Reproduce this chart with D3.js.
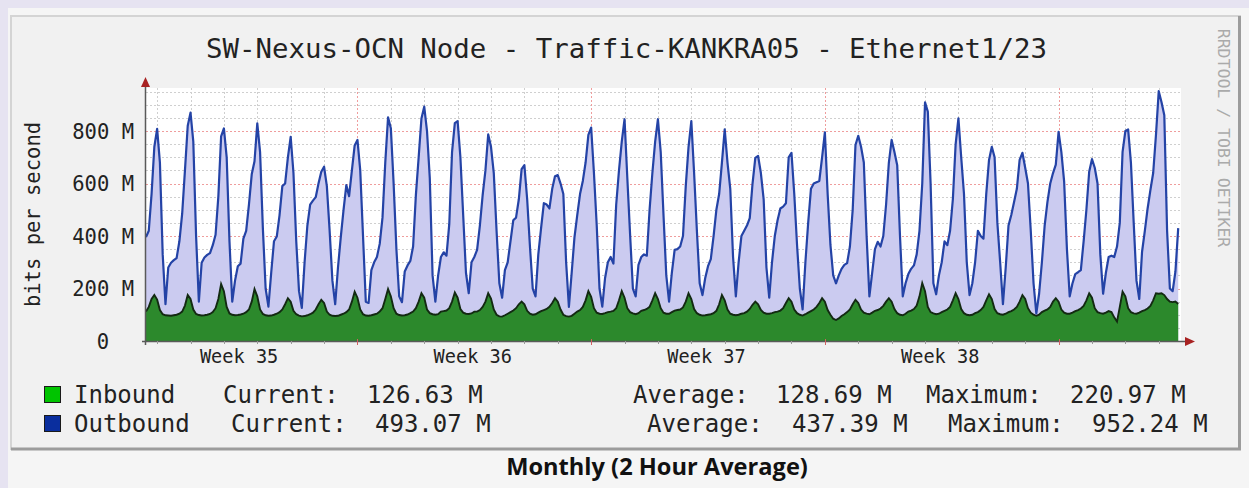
<!DOCTYPE html>
<html>
<head>
<meta charset="utf-8">
<script src="https://cdnjs.cloudflare.com/ajax/libs/d3/7.8.5/d3.min.js"></script>
<style>
  html, body { margin: 0; padding: 0; background: #e6e3f1; }
  body { width: 1249px; height: 488px; overflow: hidden; }
  svg { display: block; }
  .mono { font-family: "DejaVu Sans Mono", monospace; }
</style>
</head>
<body id="body">
<svg id="svg"></svg>
<script>
"use strict";

var title = "SW-Nexus-OCN Node - Traffic-KANKRA05 - Ethernet1/23";
var yAxisLabel = "bits per second";
var caption = "Monthly (2 Hour Average)";
var watermark = "RRDTOOL / TOBI OETIKER";
var weekLabels = ["Week 35", "Week 36", "Week 37", "Week 38"];
var yTicks = [0, 200, 400, 600, 800];
var yTickLabels = ["0", "200 M", "400 M", "600 M", "800 M"];
var seriesNames = ["Inbound", "Outbound"];
var currentValues = ["126.63 M", "493.07 M"];
var averageValues = ["128.69 M", "437.39 M"];
var maximumValues = ["220.97 M", "952.24 M"];

// 2 hour averages in Mbit/s, first sample Mon 26 Aug 2019 16:00
var outbound = [
  396, 420, 560, 740,
  808, 680, 330, 140, 280, 298, 308, 316, 380, 485, 650, 820,
  870, 760, 400, 150, 298, 318, 328, 335, 365, 405, 550, 780,
  810, 700, 380, 150, 230, 285, 295, 390, 420, 520, 635, 685,
  829, 720, 430, 200, 131, 260, 380, 398, 480, 590, 600, 700,
  778, 640, 380, 190, 126, 300, 440, 520, 535, 548, 600, 645,
  664, 590, 420, 230, 140, 280, 395, 500, 594, 552, 650, 745,
  766, 650, 400, 150, 145, 270, 300, 320, 370, 470, 680, 852,
  811, 600, 350, 170, 148, 265, 288, 305, 360, 556, 700, 848,
  893, 800, 620, 250, 150, 250, 320, 338, 325, 445, 720, 830,
  838, 700, 480, 260, 182, 300, 320, 347, 440, 556, 650, 787,
  740, 640, 420, 220, 165, 270, 300, 380, 460, 470, 540, 655,
  670, 540, 360, 200, 170, 330, 430, 525, 520, 505, 580, 628,
  632, 600, 560, 300, 130, 260, 395, 480, 560, 610, 680, 785,
  813, 640, 440, 200, 131, 240, 300, 320, 295, 520, 650, 760,
  845, 620, 404, 200, 170, 290, 320, 330, 325, 500, 640, 760,
  845, 720, 480, 250, 150, 260, 347, 350, 360, 400, 590, 740,
  838, 640, 420, 220, 175, 240, 285, 312, 400, 500, 560, 680,
  806, 680, 580, 320, 170, 300, 400, 420, 440, 468, 600, 698,
  705, 640, 540, 280, 165, 300, 400, 460, 505, 512, 525, 700,
  717, 560, 366, 200, 120, 300, 450, 580, 600, 605, 610, 700,
  795, 560, 366, 250, 220, 250, 275, 290, 297, 360, 500, 747,
  782, 740, 680, 400, 170, 260, 350, 378, 360, 400, 520, 680,
  766, 720, 670, 400, 170, 220, 255, 275, 288, 330, 420, 600,
  909, 874, 600, 220, 178, 250, 300, 380, 365, 420, 540, 750,
  848, 700, 560, 300, 175, 220, 300, 420, 400, 390, 560, 690,
  740, 700, 450, 300, 140, 280, 440, 480, 530, 580, 690, 717,
  660, 600, 420, 220, 105, 180, 300, 440, 530, 600, 640, 672,
  797, 720, 607, 350, 170, 220, 255, 262, 270, 380, 500, 645,
  693, 660, 600, 330, 180, 260, 320, 325, 320, 360, 450, 721,
  800, 806, 680, 450, 230, 160, 340, 420, 505, 575, 640, 785,
  952, 910, 860, 420, 200, 190, 265, 430
];
var inbound = [
  112, 130, 160, 175,
  158, 118, 102, 98, 97, 96, 98, 100, 104, 112, 135, 175,
  160, 120, 103, 99, 97, 98, 100, 103, 110, 125, 160, 217,
  190, 130, 105, 100, 98, 99, 101, 104, 110, 120, 150, 198,
  170, 120, 103, 98, 96, 97, 100, 104, 110, 120, 140, 163,
  150, 115, 102, 97, 94, 95, 98, 102, 108, 120, 140, 157,
  145, 112, 100, 96, 95, 96, 100, 104, 110, 120, 150, 188,
  165, 120, 102, 97, 96, 98, 101, 104, 112, 125, 160, 198,
  170, 125, 104, 99, 97, 98, 101, 106, 112, 125, 150, 182,
  165, 120, 106, 102, 100, 102, 112, 114, 116, 125, 150, 185,
  165, 122, 108, 104, 103, 105, 112, 112, 118, 130, 150, 182,
  162, 120, 100, 94, 93, 98, 104, 110, 116, 125, 140, 150,
  140, 115, 104, 100, 102, 108, 114, 118, 122, 130, 145, 163,
  150, 120, 100, 95, 93, 96, 104, 112, 118, 130, 155, 190,
  168, 125, 108, 104, 103, 106, 110, 112, 115, 125, 155, 190,
  165, 125, 110, 105, 102, 106, 115, 118, 122, 130, 155, 182,
  160, 125, 108, 104, 104, 110, 116, 118, 120, 128, 150, 182,
  160, 122, 106, 100, 97, 98, 100, 102, 106, 115, 140, 175,
  155, 120, 104, 100, 98, 100, 104, 106, 112, 122, 138, 150,
  140, 118, 108, 104, 104, 106, 110, 112, 116, 125, 145, 163,
  150, 120, 106, 100, 97, 102, 108, 114, 120, 130, 145, 163,
  150, 118, 100, 85, 80, 86, 95, 102, 110, 120, 140, 157,
  145, 120, 108, 104, 102, 108, 115, 118, 124, 134, 150, 163,
  150, 122, 106, 100, 98, 104, 112, 116, 122, 135, 170, 221,
  190, 130, 110, 105, 102, 104, 110, 115, 120, 130, 155, 182,
  160, 122, 106, 100, 98, 100, 106, 110, 118, 130, 155, 178,
  160, 122, 106, 102, 100, 104, 110, 114, 120, 130, 150, 175,
  160, 125, 108, 100, 96, 100, 110, 116, 120, 130, 150, 163,
  150, 120, 108, 104, 104, 108, 114, 118, 124, 134, 155, 182,
  165, 125, 110, 106, 104, 108, 114, 110, 90, 74, 130, 188,
  170, 125, 110, 105, 104, 108, 114, 118, 124, 134, 155, 182,
  180, 182, 175, 160, 150, 148, 150, 141
];

var width = 1249;
var height = 488;
var plot = { left: 146, right: 1181, top: 88, bottom: 341 };
var start = new Date(2019, 7, 26, 16);
var end = d3.timeDay.offset(start, 31);
var yMax = 964;

var svg = d3.select("svg").attr("width", width).attr("height", height);

// page and rrd image frame
svg.append("rect").attr("x", 8).attr("y", 8).attr("width", width - 8).attr("height", height - 8).style("fill", "#f5f5f5");
svg.append("rect").attr("x", 11).attr("y", 16).attr("width", 1230).attr("height", 434).style("fill", "#f1f1f1");
svg.append("path").attr("d", "M11,450 V16 H1241").style("fill", "none").style("stroke", "#d4d4d4").style("stroke-width", 2);
svg.append("path").attr("d", "M11,449 H1239.5 V16").style("fill", "none").style("stroke", "#9c9c9c").style("stroke-width", 3);

var x = d3.scaleTime().domain([start, end]).range([plot.left, plot.right]);
var y = d3.scaleLinear().domain([0, yMax]).range([plot.bottom, plot.top]);
var timeAt = function (i) {
  return d3.timeHour.offset(start, 2 * i);
};

svg.append("rect").attr("x", plot.left).attr("y", plot.top)
  .attr("width", plot.right - plot.left).attr("height", plot.bottom - plot.top).style("fill", "#ffffff");

// grid
var grid = svg.append("g");
var mondays = d3.timeMonday.range(start, end);
var days = d3.timeDay.range(d3.timeDay.ceil(start), end).filter(function (d) {
  return d.getDay() !== 1;
});
grid.selectAll(".hminor").data(d3.range(50, yMax, 50).filter(function (v) {
  return v % 200 !== 0;
})).enter().append("line")
  .attr("x1", plot.left).attr("x2", plot.right)
  .attr("y1", function (d) { return Math.round(y(d)) + 0.5; })
  .attr("y2", function (d) { return Math.round(y(d)) + 0.5; })
  .style("stroke", "#cfcfcf").style("stroke-dasharray", "2,2");
grid.selectAll(".vminor").data(days).enter().append("line")
  .attr("y1", plot.top).attr("y2", plot.bottom)
  .attr("x1", function (d) { return Math.round(x(d)) + 0.5; })
  .attr("x2", function (d) { return Math.round(x(d)) + 0.5; })
  .style("stroke", "#cfcfcf").style("stroke-dasharray", "2,2");
grid.selectAll(".hmajor").data(yTicks.slice(1)).enter().append("line")
  .attr("x1", plot.left).attr("x2", plot.right)
  .attr("y1", function (d) { return Math.round(y(d)) + 0.5; })
  .attr("y2", function (d) { return Math.round(y(d)) + 0.5; })
  .style("stroke", "#ef9d9d").style("stroke-dasharray", "2,2");
grid.selectAll(".vmajor").data(mondays).enter().append("line")
  .attr("y1", plot.top).attr("y2", plot.bottom)
  .attr("x1", function (d) { return Math.round(x(d)) + 0.5; })
  .attr("x2", function (d) { return Math.round(x(d)) + 0.5; })
  .style("stroke", "#ef9d9d").style("stroke-dasharray", "2,2");

// traffic
var outArea = d3.area().x(function (d, i) { return x(timeAt(i)); }).y0(y(0)).y1(function (d) { return y(d); });
var outLine = d3.line().x(function (d, i) { return x(timeAt(i)); }).y(function (d) { return y(d); });

svg.append("path").datum(outbound).attr("d", outArea).style("fill", "#cbcbf0");
svg.append("path").datum(inbound).attr("d", outArea).style("fill", "#2c892c");
svg.append("path").datum(inbound).attr("d", outLine)
  .style("fill", "none").style("stroke", "#132a12").style("stroke-width", 1.9);
svg.append("path").datum(outbound).attr("d", outLine)
  .style("fill", "none").style("stroke", "#2443a6").style("stroke-width", 2.2).style("stroke-linejoin", "round");

// axes
var axisColor = "#5a5a5a";
var arrowColor = "#a82222";
svg.append("line").attr("x1", 142).attr("x2", 1186).attr("y1", plot.bottom + 0.5).attr("y2", plot.bottom + 0.5)
  .style("stroke", axisColor).style("stroke-width", 1.5);
svg.append("line").attr("x1", plot.left - 0.5).attr("x2", plot.left - 0.5).attr("y1", 345).attr("y2", 84)
  .style("stroke", axisColor).style("stroke-width", 1.5);
svg.append("path").attr("d", "M1195,341.5 L1185,337 L1185,346 Z").style("fill", arrowColor);
svg.append("path").attr("d", "M145.5,77 L141,87 L150,87 Z").style("fill", arrowColor);

svg.append("g").selectAll("line").data(days).enter().append("line")
  .attr("x1", function (d) { return Math.round(x(d)) + 0.5; })
  .attr("x2", function (d) { return Math.round(x(d)) + 0.5; })
  .attr("y1", plot.bottom).attr("y2", plot.bottom + 3).style("stroke", "#999");
svg.append("g").selectAll("line").data(mondays).enter().append("line")
  .attr("x1", function (d) { return Math.round(x(d)) + 0.5; })
  .attr("x2", function (d) { return Math.round(x(d)) + 0.5; })
  .attr("y1", plot.bottom - 2).attr("y2", plot.bottom + 4).style("stroke", "#d06060");

var yAxis = d3.axisLeft(y).tickValues(yTicks).tickSize(0).tickPadding(12)
  .tickFormat(function (d, i) { return yTickLabels[i]; });
var yG = svg.append("g").attr("transform", "translate(" + plot.left + ",0)").call(yAxis);
yG.select(".domain").remove();
yG.selectAll("text").attr("class", "mono").style("font-size", "20.5px").style("fill", "#222")
  .attr("dy", "0.36em")
  .attr("dx", function (d) { return d === 0 ? -25 : 0; });

var weekTicks = weekLabels.map(function (d, i) {
  return d3.timeHour.offset(d3.timeDay.offset(d3.timeMonday.floor(start), 7 * i), 84);
});
var xAxis = d3.axisBottom(x).tickValues(weekTicks).tickSize(0).tickPadding(9)
  .tickFormat(function (d, i) { return weekLabels[i]; });
var xG = svg.append("g").attr("transform", "translate(0," + plot.bottom + ")").call(xAxis);
xG.select(".domain").remove();
xG.selectAll("text").attr("class", "mono").style("font-size", "18.6px").style("fill", "#222")
  .attr("dx", -2);

// titles
svg.append("text").attr("class", "mono").attr("x", 626.5).attr("y", 58).attr("text-anchor", "middle")
  .style("font-size", "27.4px").style("fill", "#222").text(title);
svg.append("text").attr("class", "mono").attr("transform", "translate(33,214.5) rotate(-90)")
  .attr("text-anchor", "middle").attr("dy", "0.36em")
  .style("font-size", "20.5px").style("fill", "#222").text(yAxisLabel);
svg.append("text").attr("class", "mono").attr("transform", "translate(1224,138) rotate(90)")
  .attr("text-anchor", "middle").attr("dy", "0.36em")
  .style("font-size", "16.5px").style("fill", "#aaaaaa").text(watermark);

// legend
var legendColors = ["#00c400", "#0a2e9e"];
var legendRows = [
  { y: 403, cols: [74, 223, 367, 633, 776, 926, 1070] },
  { y: 432, cols: [74, 231, 375, 647, 792, 948, 1092] }
];
legendRows.forEach(function (row, i) {
  svg.append("rect").attr("x", 44.5).attr("y", row.y - 16.5).attr("width", 16).attr("height", 16)
    .style("fill", legendColors[i]).style("stroke", "#1a1a1a").style("stroke-width", 1);
  var parts = [seriesNames[i], "Current:", currentValues[i], "Average:", averageValues[i], "Maximum:", maximumValues[i]];
  svg.append("g").selectAll("text").data(parts).enter().append("text")
    .attr("class", "mono").attr("x", function (d, j) { return row.cols[j]; }).attr("y", row.y)
    .style("font-size", "24px").style("fill", "#222").text(function (d) { return d; });
});

var cap = svg.append("text").attr("x", 657).attr("y", 475).attr("text-anchor", "middle")
  .style("font-family", "'Open Sans', sans-serif").style("font-weight", "bold")
  .style("font-size", "20px").style("fill", "#111").text(caption);
cap.style("font-size", (20 * 302 / cap.node().getComputedTextLength()).toFixed(2) + "px");
</script>
</body>
</html>
